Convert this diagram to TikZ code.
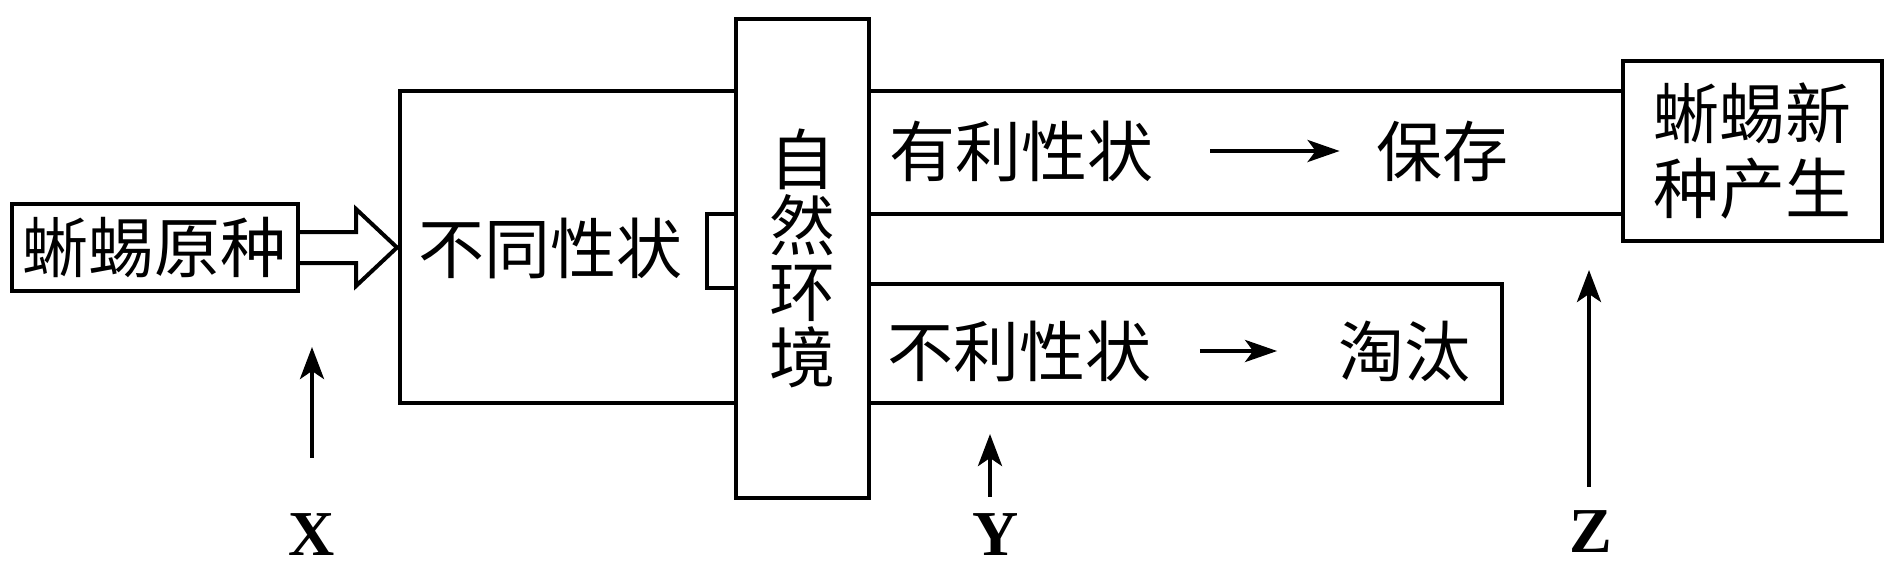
\documentclass[tikz,border=0pt]{standalone}
\usepackage{fontspec}
\setmainfont{Liberation Serif}
\newfontfamily\cjk{Noto Sans CJK SC}
\usetikzlibrary{arrows.meta,positioning}

\begin{document}
\begin{tikzpicture}[
      x=0.5pt, y=-0.5pt,
      every node/.style = {inner sep=0pt, align=center, font=\cjk\fontsize{33}{37.5}\selectfont},
      frame/.style = {draw, line width=2pt},
      letter/.style = {font=\bfseries\fontsize{32}{36}\selectfont},
      arr/.style = {line width=2pt, -{Stealth[length=16pt,width=11pt,inset=4pt]}},
      up/.style = {line width=2pt, -{Stealth[length=16pt,width=12pt,inset=4pt]}}
      ]
      \useasboundingbox (0,0) rectangle (1890,568);
      % outlines behind the environment box
      \draw[frame] (736,91) -- (400,91) -- (400,403) -- (1502,403) -- (1502,284) -- (869,284);
      \draw[frame] (736,214) -- (707,214) -- (707,288) -- (736,288);
      \draw[frame] (869,91) -- (1623,91);
      \draw[frame] (869,213.5) -- (1623,213.5);
      \node[frame, fill=white, minimum width=66.5pt, minimum height=239.5pt,
            font=\cjk\fontsize{33}{33}\selectfont] (nature) at (802.5,258.5) {自\\然\\环\\境};
      \node[frame, minimum width=143pt, minimum height=43.5pt] (orig) at (155,247.5) {蜥蜴原种};
      \node[frame, minimum width=129.5pt, minimum height=90pt] (newsp) at (1752.5,151) {蜥蜴新\\种产生};
      % texts
      \node (diff) at (550,248) {不同性状};
      \node (good) at (1021,151) {有利性状};
      \node (keep) at (1442,151) {保存};
      \node (bad) at (1019.5,351) {不利性状};
      \node (elim) at (1404.5,351) {淘汰};
      \node[letter] (X) at (312,535) {X};
      \node[letter] (Y) at (996,535) {Y};
      \node[letter] (Z) at (1591,532) {Z};
      \coordinate (xtip) at (312,347);
      \coordinate (ytip) at (990,434);
      \coordinate (ztip) at (1589,270);
      % arrows
      \draw[frame] ([yshift=7.75pt]orig.east) -- ++(56,0) -- ++(0,-23) -- ++(41,38.5)
        -- ++(-41,38.5) -- ++(0,-23) -- ++(-56,0);
      \draw[arr, shorten <=28.5pt, shorten >=18pt] (good.east) -- (keep.west);
      \draw[arr, shorten <=24pt, shorten >=30.5pt] (bad.east) -- (elim.west);
      \draw[up, shorten <=28pt] (X.north) -- (xtip);
      \draw[up, shorten <=8.5pt] (Y.north -| ytip) -- (ytip);
      \draw[up, shorten <=12pt] (Z.north -| ztip) -- (ztip);
\end{tikzpicture}
\end{document}
